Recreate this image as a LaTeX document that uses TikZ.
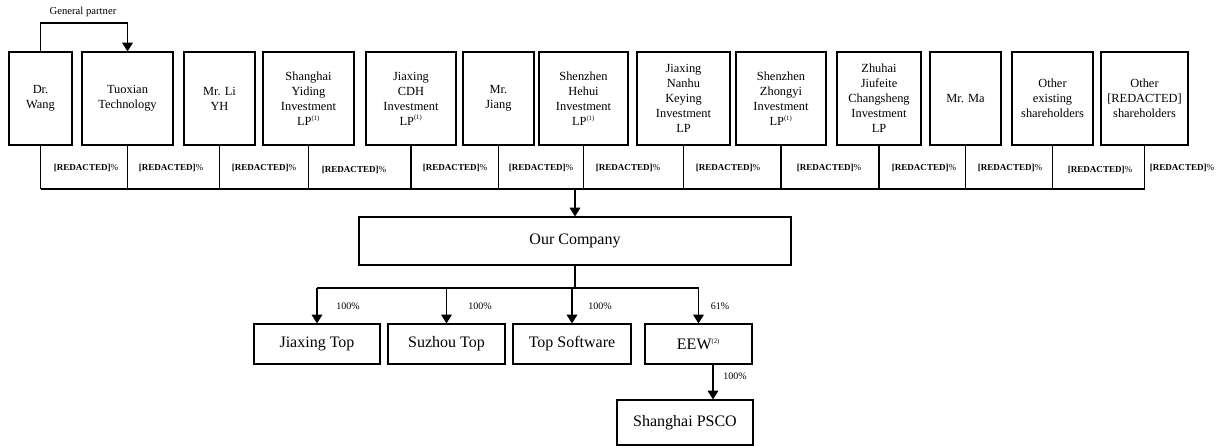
\documentclass[tikz,border=0pt]{standalone}
\usepackage{fontspec}
\setmainfont{Liberation Serif}
\usetikzlibrary{arrows.meta}

\newcommand{\supnote}[1]{\textsuperscript{\fontsize{5}{5}\selectfont(#1)}}

\tikzset{
  owner/.style={draw, line width=0.9pt, align=center, inner sep=1pt,
    minimum height=69.75pt, font=\fontsize{9.3}{11.2}\selectfont},
  sub/.style={draw, line width=0.9pt, align=center, inner sep=1pt,
    font=\fontsize{12}{14}\selectfont},
  wd/.style={minimum width=#1*0.75pt},
  ht/.style={minimum height=#1*0.75pt},
  share/.style={font=\fontsize{6.8}{8}\selectfont},
  pctlab/.style={font=\fontsize{7.5}{9}\selectfont},
  link/.style={line width=0.8pt},
  arr/.style={link, -{Triangle[width=8pt,length=6.5pt]}}
}

\begin{document}
\begin{tikzpicture}[x=0.75pt, y=-0.75pt]
    \useasboundingbox (0,0) rectangle (1221,446);

    % Shareholders
    \node[owner, wd=63] (wang) at (40.5,98.5) {Dr.\\Wang};
    \node[owner, wd=91] (tuoxian) at (127.5,98.5) {Tuoxian\\Technology};
    \node[owner, wd=71] (li) at (219.5,98.5) {Mr. Li\\YH};
    \node[owner, wd=91] (yiding) at (308.5,98.5) {Shanghai\\Yiding\\Investment\\LP\supnote{1}};
    \node[owner, wd=90] (cdh) at (411,98.5) {Jiaxing\\CDH\\Investment\\LP\supnote{1}};
    \node[owner, wd=71] (jiang) at (498.5,98.5) {Mr.\\Jiang};
    \node[owner, wd=89] (hehui) at (583.5,98.5) {Shenzhen\\Hehui\\Investment\\LP\supnote{1}};
    \node[owner, wd=93] (nanhu) at (683.5,98.5) {Jiaxing\\Nanhu\\Keying\\Investment\\LP};
    \node[owner, wd=90] (zhongyi) at (781,98.5) {Shenzhen\\Zhongyi\\Investment\\LP\supnote{1}};
    \node[owner, wd=84] (zhuhai) at (879,98.5) {Zhuhai\\Jiufeite\\Changsheng\\Investment\\LP};
    \node[owner, wd=71] (ma) at (965.5,98.5) {Mr. Ma};
    \node[owner, wd=81] (existing) at (1052.5,98.5) {Other\\existing\\shareholders};
    \node[owner, wd=87] (others) at (1144.5,98.5) {Other\\{[REDACTED]}\\shareholders};

    % General partner link
    \coordinate (gp) at (40.5,23);
    \draw[arr] (wang.north) -- (gp) -| (tuoxian.north);
    \node[pctlab, font=\fontsize{8}{9}\selectfont] (gplabel) at (83,12) {General partner};

    % Shareholding bus
    \coordinate (bus) at (575,189);
    \foreach \n in {wang,tuoxian,li,yiding,cdh,jiang,hehui,nanhu,zhongyi,zhuhai,ma,existing,others}
        \draw[link] (\n.south) -- (\n.south |- bus);
    \draw[link] (wang.south |- bus) -- (others.south |- bus);
    \foreach \x/\y [count=\i] in {86/168,171/168,264/168,354/170,455/168,541/168,628/168,
        728/168,829/168,924/168,1010/168,1100/170,1182/168}
        \node[share] (share\i) at (\x,\y) {\textbf{[REDACTED]}\%};

    % Our Company
    \node[sub, wd=432, ht=48] (company) at (575,241) {Our Company};
    \draw[arr] (bus) -- (company.north);

    % Subsidiaries
    \node[sub, wd=126, ht=40] (jxtop) at (317,344) {Jiaxing Top};
    \node[sub, wd=117, ht=40] (sztop) at (446.5,344) {Suzhou Top};
    \node[sub, wd=118, ht=40] (topsoft) at (572,344) {Top Software};
    \node[sub, wd=107, ht=40] (eew) at (698.5,344) {EEW\supnote{2}};
    \node[sub, wd=136, ht=45] (psco) at (685,422.5) {Shanghai PSCO};

    \coordinate (subbus) at (575,288);
    \draw[link] (company.south) -- (subbus);
    \draw[link] (jxtop.north |- subbus) -- (eew.north |- subbus);
    \foreach \n in {jxtop,sztop,topsoft,eew}
        \draw[arr] (\n.north |- subbus) -- (\n.north);
    \node[pctlab] (p1) at (348,306) {100\%};
    \node[pctlab] (p2) at (480,306) {100\%};
    \node[pctlab] (p3) at (600,306) {100\%};
    \node[pctlab] (p4) at (720,306) {61\%};

    \coordinate (eewout) at (713,364);
    \draw[arr] (eewout) -- (eewout |- psco.north);
    \node[pctlab] (p5) at (735,376) {100\%};
\end{tikzpicture}
\end{document}
